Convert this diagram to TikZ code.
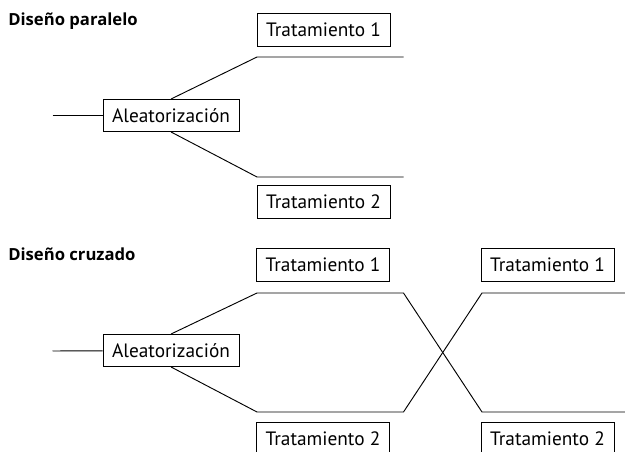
\documentclass[tikz,border=0pt]{standalone}
\usepackage{fontspec}
\setmainfont{PT Sans}
\newfontfamily\titlefont{Open Sans}
\usetikzlibrary{calc,positioning}
\tikzset{caja/.style = {rectangle, draw=black, line width=0.7pt, minimum width=99.75pt, minimum height=24.75pt, inner sep=0pt, font=\fontsize{14.5}{17}\selectfont},
    azar/.style = {caja, minimum width=102pt, minimum height=24pt},
    titulo/.style = {anchor=base west, inner sep=0pt, font=\titlefont\bfseries\fontsize{12.5}{15}\selectfont},
    rama/.style = {line width=0.7pt}
}

\begin{document}
\begin{tikzpicture}[x=0.75pt,y=-0.75pt]
\useasboundingbox (0,0) rectangle (625,452);
 \def \xa {257}
 \def \xb {403.5}
 \def \xc {482}
% diseno paralelo
 \node[titulo] (tp) at (8,25.7) {Diseño paralelo};
 \node[azar] (aleat1) at (171,115.5) {Aleatorización};
 \node[caja] (t1p) at (323.5,29.5) {Tratamiento 1};
 \node[caja] (t2p) at (323.5,202) {Tratamiento 2};
 \coordinate (in1) at (52.5,115.5);
 \coordinate (a1) at (\xa,57);
 \coordinate (a2) at (\xb,57);
 \coordinate (b1) at (\xa,177);
 \coordinate (b2) at (\xb,177);
 \draw[rama] (in1) -- (aleat1);
 \draw[rama] (aleat1.north) -- (a1) -- (a2);
 \draw[rama] (aleat1.south) -- (b1) -- (b2);
% diseno cruzado
 \node[titulo] (tc) at (8,261) {Diseño cruzado};
 \node[azar] (aleat2) at (171,350.5) {Aleatorización};
 \node[caja] (t1c) at (323,265) {Tratamiento 1};
 \node[caja] (t2c) at (323,438.5) {Tratamiento 2};
 \node[caja] (t1d) at (547.5,265) {Tratamiento 1};
 \node[caja] (t2d) at (547.5,438.5) {Tratamiento 2};
 \coordinate (in2) at (52.5,351);
 \coordinate (c1) at (\xa,293);
 \coordinate (c2) at (\xb,293);
 \coordinate (c3) at (\xc,293);
 \coordinate (c4) at (625,293);
 \coordinate (d1) at (\xa,412);
 \coordinate (d2) at (\xb,412);
 \coordinate (d3) at (\xc,412);
 \coordinate (d4) at (625,412);
 \draw[rama] (in2) -- (aleat2);
 \draw[rama] (aleat2.north) -- (c1) -- (c2) -- (d3) -- (d4);
 \draw[rama] (aleat2.south) -- (d1) -- (d2) -- (c3) -- (c4);
\end{tikzpicture}
\end{document}
